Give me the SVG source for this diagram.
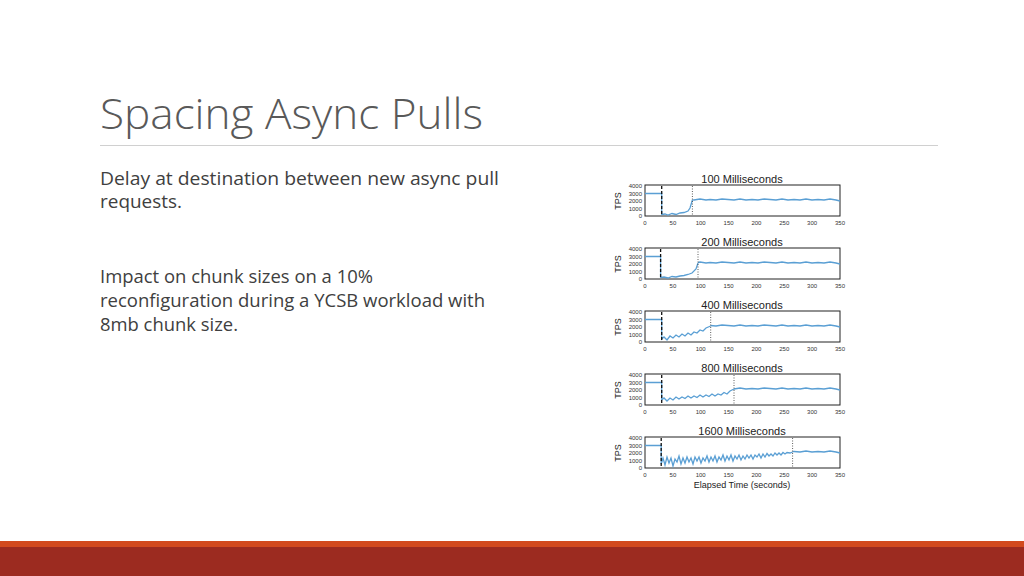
<svg xmlns="http://www.w3.org/2000/svg" width="1024" height="576" viewBox="0 0 1024 576">
<style>
.title{font-family:"Open Sans","Liberation Sans",sans-serif;font-size:43px;fill:#595959;font-weight:300}
.body{font-family:"Open Sans","Liberation Sans",sans-serif;font-size:17.5px;fill:#404040}
.ct{font-family:"Liberation Sans",sans-serif;font-size:11px;fill:#222}
.tk{font-family:"Liberation Sans",sans-serif;font-size:6px;fill:#333}
.ax{font-family:"Liberation Sans",sans-serif;font-size:9px;fill:#222}
.box{fill:#fff;stroke:#222;stroke-width:1}
.d{fill:none;stroke:#5a9fd4;stroke-width:1.3}
.dash{stroke:#111;stroke-width:1.3;stroke-dasharray:3,2}
.dot{stroke:#333;stroke-width:0.8;stroke-dasharray:1,1.5}
</style>
<rect width="1024" height="576" fill="#fff"/>
<text class="title" x="100" y="129" textLength="383" lengthAdjust="spacingAndGlyphs">Spacing Async Pulls</text>
<line x1="100" y1="145.5" x2="938" y2="145.5" stroke="#d0d0d0" stroke-width="1"/>
<text class="body" x="100" y="185" textLength="399" lengthAdjust="spacingAndGlyphs">Delay at destination between new async pull</text>
<text class="body" x="100" y="208" textLength="82" lengthAdjust="spacingAndGlyphs">requests.</text>
<text class="body" x="100" y="283" textLength="273" lengthAdjust="spacingAndGlyphs">Impact on chunk sizes on a 10%</text>
<text class="body" x="100" y="307" textLength="385" lengthAdjust="spacingAndGlyphs">reconfiguration during a YCSB workload with</text>
<text class="body" x="100" y="331" textLength="138" lengthAdjust="spacingAndGlyphs">8mb chunk size.</text>
<defs>
<g id="axes">
<rect class="box" x="645" y="185" width="195" height="31"/>
<text class="tk" x="642" y="188" text-anchor="end">4000</text>
<text class="tk" x="642" y="195.5" text-anchor="end">3000</text>
<text class="tk" x="642" y="203" text-anchor="end">2000</text>
<text class="tk" x="642" y="210.5" text-anchor="end">1000</text>
<text class="tk" x="642" y="218" text-anchor="end">0</text>
<text class="ax" transform="translate(621,201) rotate(-90)" text-anchor="middle">TPS</text>
<g class="tk" text-anchor="middle">
<text x="645" y="225">0</text><text x="672.9" y="225">50</text><text x="700.7" y="225">100</text><text x="728.6" y="225">150</text><text x="756.4" y="225">200</text><text x="784.3" y="225">250</text><text x="812.1" y="225">300</text><text x="840" y="225">350</text>
</g>
</g>
<path id="tail" d="M640,199.5 L646,200 652,199 658,200 664,199.5 670,200 676,199 682,200 688,199.5 694,200 700,199 706,200 710,199.5 716,200 722,199 728,199.5 734,200 740,199 746,200 752,199.5 758,200 764,199 770,199.5 776,200 782,199 788,200 794,199.5 800,200 806,199 812,200 818,199.5 824,200 830,199 836,200 840,201"/>
<clipPath id="c1"><rect x="692.4" y="180" width="148" height="40"/></clipPath>
<clipPath id="c2"><rect x="698" y="180" width="142" height="40"/></clipPath>
<clipPath id="c3"><rect x="710.7" y="180" width="130" height="40"/></clipPath>
<clipPath id="c4"><rect x="734" y="180" width="106" height="40"/></clipPath>
<clipPath id="c5"><rect x="792.6" y="180" width="48" height="40"/></clipPath>
</defs>
<g id="connectors"></g>
<g id="chart100">
<text class="ct" x="742" y="183" text-anchor="middle">100 Milliseconds</text>
<use href="#axes"/>
<path class="d" d="M645,193.5 H661.7 V214.5 L665,214 668,215 672,213.5 676,214.5 680,213 684,212.5 688,211 690,208 692.4,200"/>
<use href="#tail" class="d" clip-path="url(#c1)"/>
<line class="dash" x1="661.7" y1="186" x2="661.7" y2="216"/>
<line class="dot" x1="692.4" y1="186" x2="692.4" y2="216"/>
</g>
<g id="chart200" transform="translate(0,63)">
<text class="ct" x="742" y="183" text-anchor="middle">200 Milliseconds</text>
<use href="#axes"/>
<path class="d" d="M645,193.5 H660.6 V214.5 L664,214 668,215 672,213.5 676,214 680,213 684,212.5 688,211.5 692,210 696,206 698,200"/>
<use href="#tail" class="d" clip-path="url(#c2)"/>
<line class="dash" x1="660.6" y1="186" x2="660.6" y2="216"/>
<line class="dot" x1="698" y1="186" x2="698" y2="216"/>
</g>
<g id="chart400" transform="translate(0,126)">
<text class="ct" x="742" y="183" text-anchor="middle">400 Milliseconds</text>
<use href="#axes"/>
<path class="d" d="M645,193.5 H661.7 V213 L664,211 667,214 670,210 673,212 676,209 679,211 682,208 685,210 688,207 691,209 694,206 697,207 700,204 703,205 706,202 710.7,200"/>
<use href="#tail" class="d" clip-path="url(#c3)"/>
<line class="dash" x1="661.7" y1="186" x2="661.7" y2="216"/>
<line class="dot" x1="710.7" y1="186" x2="710.7" y2="216"/>
</g>
<g id="chart800" transform="translate(0,189)">
<text class="ct" x="742" y="183" text-anchor="middle">800 Milliseconds</text>
<use href="#axes"/>
<path class="d" d="M645,193.5 H661.7 V211 L664,209 667,212 670,209 673,211 676,208 679,210 682,208 685,209.5 688,207 691,209 694,207 697,208.5 700,206 703,208 706,206 709,207.5 712,205 715,207 718,205 721,206 724,203.5 727,205 730,202 734,200"/>
<use href="#tail" class="d" clip-path="url(#c4)"/>
<line class="dash" x1="661.7" y1="186" x2="661.7" y2="216"/>
<line class="dot" x1="734" y1="186" x2="734" y2="216"/>
</g>
<g id="chart1600" transform="translate(0,252)">
<text class="ct" x="742" y="183" text-anchor="middle">1600 Milliseconds</text>
<use href="#axes"/>
<path class="d" d="M645,193.5 H661.2 V212 L663,206 665,213 667,205 669,211 671,206 673,214 675,207 677,210 679,204 681,212 683,206 685,211 687,205 689,210 691,206 693,212 695,205 697,209 699,205 701,211 703,206 705,209 707,204 709,210 711,205 713,209 715,204 717,210 719,205 721,208 723,203 725,209 727,204 729,208 731,203 733,209 735,204 737,207 739,203 741,208 743,204 745,207 747,203 749,206 751,203 753,207 755,203 757,205 759,202 761,206 763,202 765,205 767,201.5 769,204 771,202 773,204 775,201 777,203 779,201 781,203 783,200.5 785,202 787,200.5 790,201 792.6,200"/>
<use href="#tail" class="d" clip-path="url(#c5)"/>
<line class="dash" x1="661.2" y1="186" x2="661.2" y2="216"/>
<line class="dot" x1="792.6" y1="186" x2="792.6" y2="216"/>
<text class="ax" x="742" y="236" text-anchor="middle">Elapsed Time (seconds)</text>
</g>
<rect x="0" y="541" width="1024" height="6" fill="#d24a1e"/>
<rect x="0" y="547" width="1024" height="29" fill="#9c2b20"/>
</svg>
